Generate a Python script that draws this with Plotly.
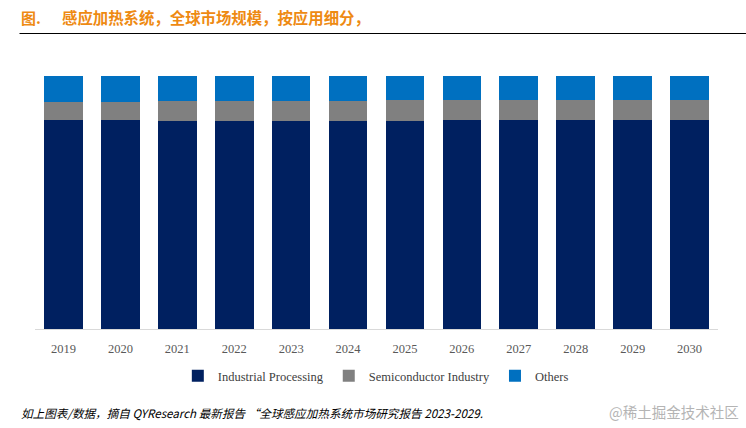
import plotly.graph_objects as go

years = ["2019", "2020", "2021", "2022", "2023", "2024", "2025", "2026", "2027", "2028", "2029", "2030"]
industrial = [82.6, 82.5, 82.4, 82.4, 82.4, 82.4, 82.4, 82.5, 82.5, 82.6, 82.6, 82.6]
semiconductor = [7.1, 7.3, 7.6, 7.7, 7.8, 7.8, 8.0, 8.0, 8.0, 7.9, 7.9, 7.9]
others = [10.3, 10.2, 10.0, 9.9, 9.8, 9.8, 9.6, 9.5, 9.5, 9.5, 9.5, 9.5]

series = [
    ("Industrial Processing", industrial, "#002060"),
    ("Semiconductor Industry", semiconductor, "#808080"),
    ("Others", others, "#0070C0"),
]

fig = go.Figure()
for name, vals, color in series:
    fig.add_trace(go.Bar(x=years, y=vals, name=name, marker=dict(color=color, line=dict(width=0))))

W, H = 746, 428
L, R, T, B = 34.5, 718, 76, 329

def px(x):
    return (x - L) / (R - L)

def py(y):
    return (B - y) / (B - T)

serif = "Liberation Serif, Times New Roman, serif"

fig.update_layout(
    width=W, height=H,
    font=dict(family=serif, size=12.5, color="#404040"),
    barmode="stack", bargap=0.32,
    margin=dict(l=L, r=W - R, t=T, b=H - B, pad=0),
    paper_bgcolor="white", plot_bgcolor="white",
    showlegend=True,
    legend=dict(orientation="h", x=0.499, xanchor="center", y=py(376), yanchor="middle",
                font=dict(family=serif, size=12.5, color="#404040"),
                itemwidth=30, traceorder="normal"),
    xaxis=dict(showgrid=False, showline=True, linecolor="#D9D9D9", linewidth=1, ticks="",
               tickfont=dict(family=serif, size=12.5, color="#595959"), ticklabelstandoff=8),
    yaxis=dict(range=[0, 100], visible=False),
)

fig.add_annotation(x=px(18), y=py(17), xref="paper", yref="paper", xanchor="left", yanchor="middle",
                   text="<b>图.</b>", showarrow=False,
                   font=dict(family="Noto Sans CJK SC", size=15, color="#EE8A12"))
fig.add_annotation(x=px(60), y=py(17), xref="paper", yref="paper", xanchor="left", yanchor="middle",
                   text="<b>感应加热系统，全球市场规模，按应用细分，</b>", showarrow=False,
                   font=dict(family="Noto Sans CJK SC", size=15.4, color="#EE8A12"))
fig.add_shape(type="line", xref="paper", yref="paper", x0=px(19), x1=px(746), y0=py(33.5), y1=py(33.5),
              line=dict(color="#000000", width=1))
fig.add_annotation(x=px(18), y=py(413), xref="paper", yref="paper", xanchor="left", yanchor="middle",
                   text="<i>如上图表/数据，摘自 QYResearch 最新报告 “全球感应加热系统市场研究报告 2023-2029.</i>",
                   showarrow=False,
                   font=dict(family="Noto Sans CJK SC", size=11.6, color="#000000"))
fig.add_annotation(x=px(741), y=py(412), xref="paper", yref="paper", xanchor="right", yanchor="middle",
                   text="@稀土掘金技术社区", showarrow=False,
                   font=dict(family="Noto Sans CJK SC", size=14.5, color="#B4B4B4"))

fig.write_html("out.html", config={"displayModeBar": False},
               post_script="document.body.style.margin='0';document.body.style.overflow='hidden';")
